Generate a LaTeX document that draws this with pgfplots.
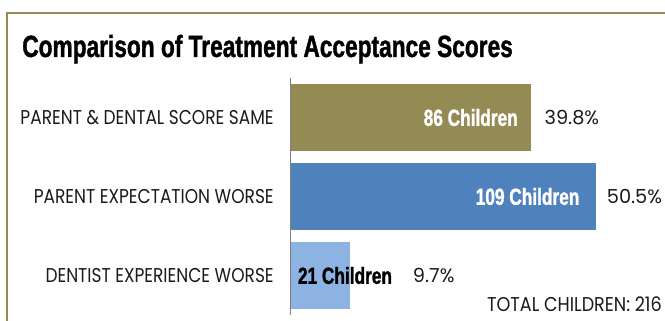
\documentclass[border=0pt]{standalone}
\usepackage{pgfplots}
\pgfplotsset{compat=1.18}
\usepackage{fontspec}
\setmainfont{Poppins}
\newfontfamily\labfont[FakeStretch=0.85]{Poppins}
\newfontfamily\totfont[FakeStretch=0.88]{Poppins}
\newfontfamily\condfont[FakeStretch=0.74, FakeBold=1.2]{Liberation Sans}
\definecolor{frameol}{HTML}{948A54}
\definecolor{cone}{HTML}{948A54}
\definecolor{ctwo}{HTML}{4F81BD}
\definecolor{cthree}{HTML}{8DB3E2}
\definecolor{txt}{HTML}{1A1A1A}
\begin{document}
\begin{tikzpicture}
\path[use as bounding box] (0,0) rectangle (498.75pt,240.75pt);
\draw[frameol, line width=1.5pt] (5.25pt,0) -- (5.25pt,231pt) -- (499pt,231pt);
\node[anchor=base west, inner sep=0pt, font=\condfont\bfseries\fontsize{23}{26}\selectfont] at (16.5pt,198pt) {Comparison of Treatment Acceptance Scores};
\begin{axis}[
  at={(218.25pt,4.5pt)}, anchor=south west, scale only axis,
  width=272.5pt, height=177.75pt,
  xmin=0, xmax=130, ymin=-0.5, ymax=2.5, y dir=reverse,
  axis x line=none, axis y line=left,
  axis line style={-, draw=gray, line width=0.75pt},
  ytick={0,1,2},
  yticklabels={PARENT \& DENTAL SCORE SAME, PARENT EXPECTATION WORSE, DENTIST EXPERIENCE WORSE},
  major tick length=0pt,
  yticklabel style={font=\labfont\fontsize{15}{17}\selectfont, text=txt, anchor=east, inner sep=0pt, xshift=-12.75pt},
  xbar, bar width=0.86,
  clip=false,
]
\addplot[fill=cone, draw=none, bar shift=0pt, nodes near coords={86 Children},
  every node near coord/.append style={anchor=east, inner sep=0pt, xshift=-10pt, text=white, font=\condfont\bfseries\fontsize{17.5}{20}\selectfont}]
  coordinates {(86,0)};
\addplot[fill=ctwo, draw=none, bar shift=0pt, nodes near coords={109 Children},
  every node near coord/.append style={anchor=east, inner sep=0pt, xshift=-12pt, text=white, font=\condfont\bfseries\fontsize{17.5}{20}\selectfont}]
  coordinates {(109,1)};
\addplot[fill=cthree, draw=none, bar shift=0pt, nodes near coords={21 Children},
  every node near coord/.append style={anchor=west, inner sep=0pt, xshift=-39pt, text=black, font=\condfont\bfseries\fontsize{17.5}{20}\selectfont}]
  coordinates {(21,2)};
\addplot[draw=none, fill=none, bar shift=0pt, forget plot, nodes near coords={39.8\%},
  every node near coord/.append style={anchor=west, inner sep=0pt, xshift=9.75pt, text=txt, font=\fontsize{14.5}{16}\selectfont}]
  coordinates {(86,0)};
\addplot[draw=none, fill=none, bar shift=0pt, forget plot, nodes near coords={50.5\%},
  every node near coord/.append style={anchor=west, inner sep=0pt, xshift=8.25pt, text=txt, font=\fontsize{14.5}{16}\selectfont}]
  coordinates {(109,1)};
\addplot[draw=none, fill=none, bar shift=0pt, forget plot, nodes near coords={9.7\%},
  every node near coord/.append style={anchor=west, inner sep=0pt, xshift=47.25pt, text=txt, font=\fontsize{14.5}{16}\selectfont}]
  coordinates {(21,2)};
\end{axis}
\node[anchor=base east, inner sep=0pt, text=txt, font=\totfont\fontsize{15}{17}\selectfont] at (496.5pt,6.75pt) {TOTAL CHILDREN: 216};
\end{tikzpicture}
\end{document}
